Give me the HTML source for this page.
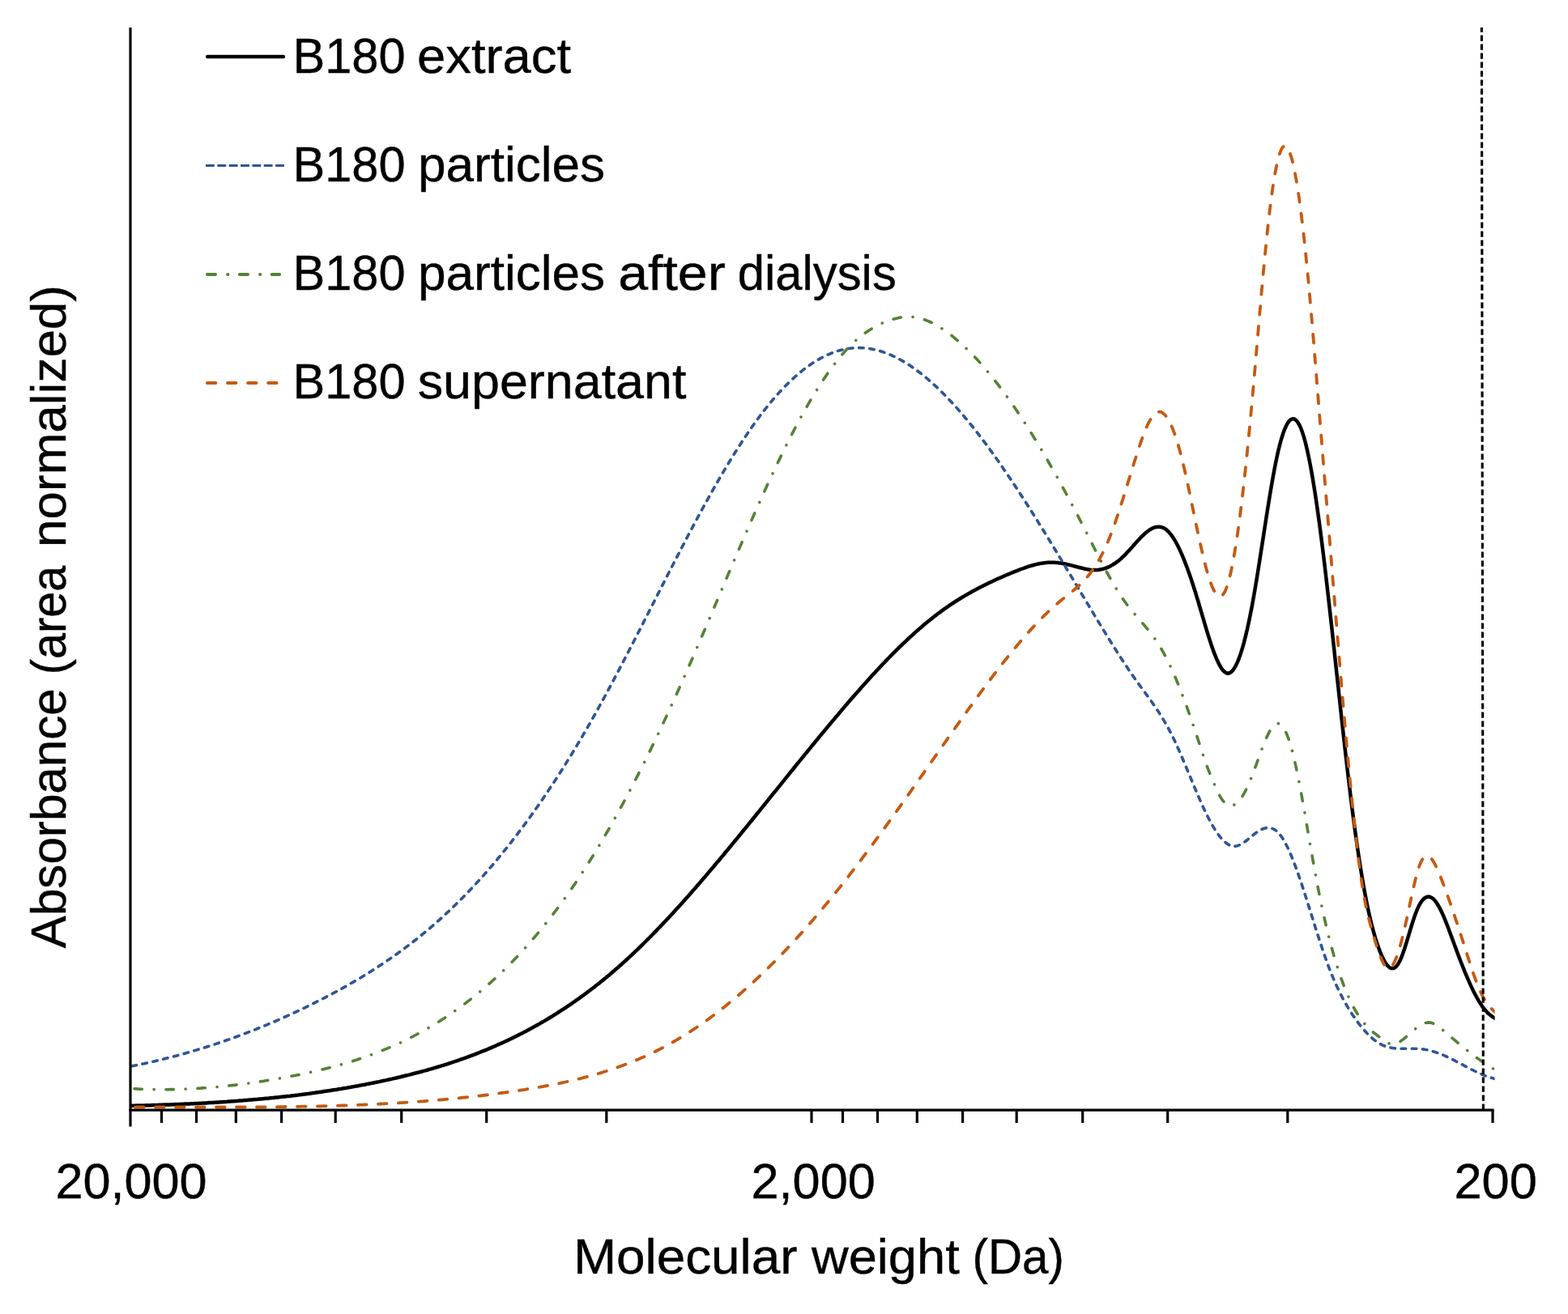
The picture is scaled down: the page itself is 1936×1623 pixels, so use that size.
<!DOCTYPE html>
<html lang="en">
<head>
<meta charset="utf-8">
<title>Molecular weight distribution</title>
<style>
html,body{margin:0;padding:0;background:#fff;}
body{width:1936px;height:1623px;overflow:hidden;}
svg{display:block;}
text{font-family:"Liberation Sans",sans-serif;font-size:60.5px;fill:#000;stroke:#000;stroke-width:0.4px;}
.ax{stroke:#000;stroke-width:3.2;fill:none;}
.c{fill:none;stroke-linejoin:round;}
</style>
</head>
<body>
<svg width="1936" height="1623" viewBox="0 0 1936 1623" role="img" aria-label="Molecular weight distribution of B180 extract, particles, particles after dialysis and supernatant">
<rect x="0" y="0" width="1936" height="1623" fill="#fff"/>
<defs><clipPath id="plot"><rect x="161" y="30" width="1684.6" height="1345"/></clipPath></defs>
<g id="curves" clip-path="url(#plot)">
<path class="c" d="M150.0,1366.0 L152.0,1366.0 L154.0,1366.0 L156.0,1365.9 L158.0,1365.9 L160.0,1365.8 L162.0,1365.8 L164.0,1365.7 L166.0,1365.7 L168.0,1365.6 L170.0,1365.6 L172.0,1365.5 L174.0,1365.5 L176.0,1365.4 L178.0,1365.4 L180.0,1365.3 L182.0,1365.3 L184.0,1365.2 L186.0,1365.2 L188.0,1365.1 L190.0,1365.0 L192.0,1365.0 L194.0,1364.9 L196.0,1364.8 L198.0,1364.8 L200.0,1364.7 L202.0,1364.6 L204.0,1364.6 L206.0,1364.5 L208.0,1364.4 L210.0,1364.4 L212.0,1364.3 L214.0,1364.2 L216.0,1364.1 L218.0,1364.1 L220.0,1364.0 L222.0,1363.9 L224.0,1363.8 L226.0,1363.7 L228.0,1363.6 L230.0,1363.5 L232.0,1363.5 L234.0,1363.4 L236.0,1363.3 L238.0,1363.2 L240.0,1363.1 L242.0,1363.0 L244.0,1362.9 L246.0,1362.8 L248.0,1362.7 L250.0,1362.6 L252.0,1362.5 L254.0,1362.4 L256.0,1362.2 L258.0,1362.1 L260.0,1362.0 L262.0,1361.9 L264.0,1361.8 L266.0,1361.7 L268.0,1361.5 L270.0,1361.4 L272.0,1361.3 L274.0,1361.2 L276.0,1361.0 L278.0,1360.9 L280.0,1360.8 L282.0,1360.6 L284.0,1360.5 L286.0,1360.3 L288.0,1360.2 L290.0,1360.0 L292.0,1359.9 L294.0,1359.8 L296.0,1359.6 L298.0,1359.4 L300.0,1359.3 L302.0,1359.1 L304.0,1359.0 L306.0,1358.8 L308.0,1358.6 L310.0,1358.5 L312.0,1358.3 L314.0,1358.1 L316.0,1357.9 L318.0,1357.8 L320.0,1357.6 L322.0,1357.4 L324.0,1357.2 L326.0,1357.0 L328.0,1356.8 L330.0,1356.7 L332.0,1356.5 L334.0,1356.3 L336.0,1356.1 L338.0,1355.9 L340.0,1355.6 L342.0,1355.4 L344.0,1355.2 L346.0,1355.0 L348.0,1354.8 L350.0,1354.6 L352.0,1354.4 L354.0,1354.1 L356.0,1353.9 L358.0,1353.7 L360.0,1353.4 L362.0,1353.2 L364.0,1353.0 L366.0,1352.7 L368.0,1352.5 L370.0,1352.2 L372.0,1352.0 L374.0,1351.7 L376.0,1351.5 L378.0,1351.2 L380.0,1350.9 L382.0,1350.7 L384.0,1350.4 L386.0,1350.1 L388.0,1349.9 L390.0,1349.6 L392.0,1349.3 L394.0,1349.0 L396.0,1348.7 L398.0,1348.4 L400.0,1348.1 L402.0,1347.8 L404.0,1347.5 L406.0,1347.2 L408.0,1346.9 L410.0,1346.6 L412.0,1346.3 L414.0,1346.0 L416.0,1345.7 L418.0,1345.3 L420.0,1345.0 L422.0,1344.7 L424.0,1344.3 L426.0,1344.0 L428.0,1343.7 L430.0,1343.3 L432.0,1343.0 L434.0,1342.6 L436.0,1342.3 L438.0,1341.9 L440.0,1341.5 L442.0,1341.2 L444.0,1340.8 L446.0,1340.4 L448.0,1340.0 L450.0,1339.7 L452.0,1339.3 L454.0,1338.9 L456.0,1338.5 L458.0,1338.1 L460.0,1337.7 L462.0,1337.3 L464.0,1336.9 L466.0,1336.5 L468.0,1336.1 L470.0,1335.6 L472.0,1335.2 L474.0,1334.8 L476.0,1334.4 L478.0,1333.9 L480.0,1333.5 L482.0,1333.0 L484.0,1332.6 L486.0,1332.1 L488.0,1331.7 L490.0,1331.2 L492.0,1330.7 L494.0,1330.3 L496.0,1329.8 L498.0,1329.3 L500.0,1328.8 L502.0,1328.3 L504.0,1327.9 L506.0,1327.4 L508.0,1326.8 L510.0,1326.3 L512.0,1325.8 L514.0,1325.3 L516.0,1324.8 L518.0,1324.2 L520.0,1323.7 L522.0,1323.2 L524.0,1322.6 L526.0,1322.1 L528.0,1321.5 L530.0,1320.9 L532.0,1320.4 L534.0,1319.8 L536.0,1319.2 L538.0,1318.6 L540.0,1318.0 L542.0,1317.4 L544.0,1316.8 L546.0,1316.2 L548.0,1315.6 L550.0,1314.9 L552.0,1314.3 L554.0,1313.6 L556.0,1313.0 L558.0,1312.3 L560.0,1311.7 L562.0,1311.0 L564.0,1310.3 L566.0,1309.6 L568.0,1308.9 L570.0,1308.2 L572.0,1307.5 L574.0,1306.8 L576.0,1306.1 L578.0,1305.4 L580.0,1304.6 L582.0,1303.9 L584.0,1303.1 L586.0,1302.4 L588.0,1301.6 L590.0,1300.8 L592.0,1300.0 L594.0,1299.2 L596.0,1298.4 L598.0,1297.6 L600.0,1296.8 L602.0,1296.0 L604.0,1295.1 L606.0,1294.3 L608.0,1293.4 L610.0,1292.6 L612.0,1291.7 L614.0,1290.8 L616.0,1289.9 L618.0,1289.0 L620.0,1288.1 L622.0,1287.2 L624.0,1286.3 L626.0,1285.4 L628.0,1284.4 L630.0,1283.5 L632.0,1282.5 L634.0,1281.5 L636.0,1280.5 L638.0,1279.5 L640.0,1278.5 L642.0,1277.5 L644.0,1276.5 L646.0,1275.5 L648.0,1274.4 L650.0,1273.4 L652.0,1272.3 L654.0,1271.2 L656.0,1270.1 L658.0,1269.0 L660.0,1267.9 L662.0,1266.8 L664.0,1265.7 L666.0,1264.6 L668.0,1263.4 L670.0,1262.2 L672.0,1261.1 L674.0,1259.9 L676.0,1258.7 L678.0,1257.5 L680.0,1256.3 L682.0,1255.1 L684.0,1253.8 L686.0,1252.6 L688.0,1251.3 L690.0,1250.0 L692.0,1248.7 L694.0,1247.4 L696.0,1246.1 L698.0,1244.8 L700.0,1243.5 L702.0,1242.1 L704.0,1240.8 L706.0,1239.4 L708.0,1238.0 L710.0,1236.6 L712.0,1235.2 L714.0,1233.8 L716.0,1232.4 L718.0,1230.9 L720.0,1229.5 L722.0,1228.0 L724.0,1226.5 L726.0,1225.0 L728.0,1223.5 L730.0,1222.0 L732.0,1220.5 L734.0,1218.9 L736.0,1217.3 L738.0,1215.8 L740.0,1214.2 L742.0,1212.6 L744.0,1211.0 L746.0,1209.3 L748.0,1207.7 L750.0,1206.0 L752.0,1204.4 L754.0,1202.7 L756.0,1201.0 L758.0,1199.3 L760.0,1197.5 L762.0,1195.8 L764.0,1194.0 L766.0,1192.3 L768.0,1190.5 L770.0,1188.7 L772.0,1186.9 L774.0,1185.0 L776.0,1183.2 L778.0,1181.3 L780.0,1179.5 L782.0,1177.6 L784.0,1175.7 L786.0,1173.8 L788.0,1171.9 L790.0,1169.9 L792.0,1168.0 L794.0,1166.0 L796.0,1164.0 L798.0,1162.0 L800.0,1160.0 L802.0,1158.0 L804.0,1156.0 L806.0,1154.0 L808.0,1151.9 L810.0,1149.9 L812.0,1147.8 L814.0,1145.7 L816.0,1143.6 L818.0,1141.5 L820.0,1139.4 L822.0,1137.3 L824.0,1135.1 L826.0,1133.0 L828.0,1130.8 L830.0,1128.7 L832.0,1126.5 L834.0,1124.3 L836.0,1122.1 L838.0,1119.9 L840.0,1117.7 L842.0,1115.5 L844.0,1113.2 L846.0,1111.0 L848.0,1108.7 L850.0,1106.5 L852.0,1104.2 L854.0,1101.9 L856.0,1099.6 L858.0,1097.4 L860.0,1095.1 L862.0,1092.7 L864.0,1090.4 L866.0,1088.1 L868.0,1085.8 L870.0,1083.5 L872.0,1081.1 L874.0,1078.8 L876.0,1076.4 L878.0,1074.0 L880.0,1071.7 L882.0,1069.3 L884.0,1066.9 L886.0,1064.5 L888.0,1062.2 L890.0,1059.8 L892.0,1057.4 L894.0,1055.0 L896.0,1052.5 L898.0,1050.1 L900.0,1047.7 L902.0,1045.3 L904.0,1042.9 L906.0,1040.4 L908.0,1038.0 L910.0,1035.6 L912.0,1033.1 L914.0,1030.7 L916.0,1028.2 L918.0,1025.8 L920.0,1023.3 L922.0,1020.8 L924.0,1018.4 L926.0,1015.9 L928.0,1013.5 L930.0,1011.0 L932.0,1008.5 L934.0,1006.0 L936.0,1003.6 L938.0,1001.1 L940.0,998.6 L942.0,996.1 L944.0,993.7 L946.0,991.2 L948.0,988.7 L950.0,986.2 L952.0,983.7 L954.0,981.2 L956.0,978.8 L958.0,976.3 L960.0,973.8 L962.0,971.3 L964.0,968.8 L966.0,966.3 L968.0,963.9 L970.0,961.4 L972.0,958.9 L974.0,956.4 L976.0,953.9 L978.0,951.5 L980.0,949.0 L982.0,946.5 L984.0,944.0 L986.0,941.6 L988.0,939.1 L990.0,936.6 L992.0,934.2 L994.0,931.7 L996.0,929.3 L998.0,926.8 L1000.0,924.4 L1002.0,921.9 L1004.0,919.5 L1006.0,917.0 L1008.0,914.6 L1010.0,912.2 L1012.0,909.7 L1014.0,907.3 L1016.0,904.9 L1018.0,902.5 L1020.0,900.1 L1022.0,897.7 L1024.0,895.3 L1026.0,892.9 L1028.0,890.5 L1030.0,888.1 L1032.0,885.7 L1034.0,883.4 L1036.0,881.0 L1038.0,878.6 L1040.0,876.3 L1042.0,873.9 L1044.0,871.6 L1046.0,869.3 L1048.0,866.9 L1050.0,864.6 L1052.0,862.3 L1054.0,860.0 L1056.0,857.7 L1058.0,855.4 L1060.0,853.2 L1062.0,850.9 L1064.0,848.6 L1066.0,846.4 L1068.0,844.2 L1070.0,841.9 L1072.0,839.7 L1074.0,837.5 L1076.0,835.3 L1078.0,833.1 L1080.0,831.0 L1082.0,828.8 L1084.0,826.7 L1086.0,824.5 L1088.0,822.4 L1090.0,820.3 L1092.0,818.2 L1094.0,816.1 L1096.0,814.0 L1098.0,812.0 L1100.0,809.9 L1102.0,807.9 L1104.0,805.9 L1106.0,803.9 L1108.0,801.9 L1110.0,800.0 L1112.0,798.0 L1114.0,796.1 L1116.0,794.2 L1118.0,792.3 L1120.0,790.4 L1122.0,788.5 L1124.0,786.6 L1126.0,784.8 L1128.0,783.0 L1130.0,781.2 L1132.0,779.4 L1134.0,777.7 L1136.0,775.9 L1138.0,774.2 L1140.0,772.5 L1142.0,770.8 L1144.0,769.1 L1146.0,767.5 L1148.0,765.9 L1150.0,764.3 L1152.0,762.7 L1154.0,761.1 L1156.0,759.6 L1158.0,758.0 L1160.0,756.6 L1162.0,755.1 L1164.0,753.6 L1166.0,752.2 L1168.0,750.8 L1170.0,749.4 L1172.0,748.0 L1174.0,746.7 L1176.0,745.3 L1178.0,744.0 L1180.0,742.7 L1182.0,741.5 L1184.0,740.2 L1186.0,739.0 L1188.0,737.8 L1190.0,736.6 L1192.0,735.4 L1194.0,734.2 L1196.0,733.1 L1198.0,732.0 L1200.0,730.8 L1202.0,729.7 L1204.0,728.7 L1206.0,727.6 L1208.0,726.5 L1210.0,725.5 L1212.0,724.5 L1214.0,723.5 L1216.0,722.5 L1218.0,721.5 L1220.0,720.5 L1222.0,719.5 L1224.0,718.6 L1226.0,717.7 L1228.0,716.7 L1230.0,715.8 L1232.0,714.9 L1234.0,714.0 L1236.0,713.1 L1238.0,712.3 L1240.0,711.4 L1242.0,710.5 L1244.0,709.7 L1246.0,708.9 L1248.0,708.0 L1250.0,707.2 L1252.0,706.4 L1254.0,705.6 L1256.0,704.8 L1258.0,704.0 L1260.0,703.2 L1262.0,702.5 L1264.0,701.8 L1266.0,701.1 L1268.0,700.4 L1270.0,699.7 L1272.0,699.1 L1274.0,698.5 L1276.0,698.0 L1278.0,697.4 L1280.0,696.9 L1282.0,696.5 L1284.0,696.1 L1286.0,695.8 L1288.0,695.4 L1290.0,695.2 L1292.0,695.0 L1294.0,694.8 L1296.0,694.7 L1298.0,694.7 L1300.0,694.7 L1302.0,694.8 L1304.0,694.9 L1306.0,695.1 L1308.0,695.4 L1310.0,695.6 L1312.0,696.0 L1314.0,696.3 L1316.0,696.7 L1318.0,697.2 L1320.0,697.6 L1322.0,698.1 L1324.0,698.6 L1326.0,699.2 L1328.0,699.7 L1330.0,700.2 L1332.0,700.8 L1334.0,701.3 L1336.0,701.8 L1338.0,702.3 L1340.0,702.7 L1342.0,703.1 L1344.0,703.4 L1346.0,703.7 L1348.0,703.9 L1350.0,704.0 L1352.0,704.0 L1354.0,704.0 L1356.0,703.8 L1358.0,703.5 L1360.0,703.1 L1362.0,702.7 L1364.0,702.1 L1366.0,701.4 L1368.0,700.6 L1370.0,699.7 L1372.0,698.6 L1374.0,697.5 L1376.0,696.2 L1378.0,694.9 L1380.0,693.4 L1382.0,691.8 L1384.0,690.1 L1386.0,688.2 L1388.0,686.3 L1390.0,684.3 L1392.0,682.1 L1394.0,679.9 L1396.0,677.7 L1398.0,675.5 L1400.0,673.2 L1402.0,671.0 L1404.0,668.7 L1406.0,666.6 L1408.0,664.4 L1410.0,662.4 L1412.0,660.5 L1414.0,658.7 L1416.0,657.0 L1418.0,655.5 L1420.0,654.1 L1422.0,653.0 L1424.0,652.0 L1426.0,651.3 L1428.0,650.9 L1430.0,650.7 L1432.0,650.7 L1434.0,651.1 L1436.0,651.8 L1438.0,652.8 L1440.0,654.2 L1442.0,656.0 L1444.0,658.1 L1446.0,660.6 L1448.0,663.4 L1450.0,666.5 L1452.0,670.0 L1454.0,673.7 L1456.0,677.8 L1458.0,682.1 L1460.0,686.7 L1462.0,691.6 L1464.0,696.7 L1466.0,702.0 L1468.0,707.6 L1470.0,713.3 L1472.0,719.3 L1474.0,725.5 L1476.0,731.8 L1478.0,738.4 L1480.0,745.0 L1482.0,751.8 L1484.0,758.6 L1486.0,765.4 L1488.0,772.2 L1490.0,778.9 L1492.0,785.4 L1494.0,791.6 L1496.0,797.7 L1498.0,803.4 L1500.0,808.7 L1502.0,813.6 L1504.0,818.0 L1506.0,821.9 L1508.0,825.3 L1510.0,828.0 L1512.0,829.9 L1514.0,831.2 L1516.0,831.7 L1518.0,831.3 L1520.0,830.1 L1522.0,828.2 L1524.0,825.4 L1526.0,821.9 L1528.0,817.6 L1530.0,812.6 L1532.0,806.9 L1534.0,800.4 L1536.0,793.3 L1538.0,785.4 L1540.0,776.9 L1542.0,767.8 L1544.0,758.0 L1546.0,747.6 L1548.0,736.6 L1550.0,725.0 L1552.0,712.9 L1554.0,700.5 L1556.0,687.7 L1558.0,674.8 L1560.0,661.8 L1562.0,648.8 L1564.0,635.9 L1566.0,623.3 L1568.0,611.0 L1570.0,599.1 L1572.0,587.8 L1574.0,577.1 L1576.0,567.1 L1578.0,558.0 L1580.0,549.8 L1582.0,542.5 L1584.0,536.1 L1586.0,530.6 L1588.0,526.0 L1590.0,522.4 L1592.0,519.7 L1594.0,518.0 L1596.0,517.3 L1598.0,517.5 L1600.0,518.8 L1602.0,521.0 L1604.0,524.3 L1606.0,528.5 L1608.0,533.8 L1610.0,540.2 L1612.0,547.5 L1614.0,555.9 L1616.0,565.2 L1618.0,575.4 L1620.0,586.5 L1622.0,598.5 L1624.0,611.2 L1626.0,624.7 L1628.0,638.9 L1630.0,653.8 L1632.0,669.4 L1634.0,685.5 L1636.0,702.1 L1638.0,719.2 L1640.0,736.7 L1642.0,754.5 L1644.0,772.5 L1646.0,790.8 L1648.0,809.2 L1650.0,827.7 L1652.0,846.1 L1654.0,864.6 L1656.0,882.9 L1658.0,901.0 L1660.0,918.9 L1662.0,936.5 L1664.0,953.8 L1666.0,970.6 L1668.0,986.9 L1670.0,1002.7 L1672.0,1018.0 L1674.0,1032.6 L1676.0,1046.7 L1678.0,1060.2 L1680.0,1073.0 L1682.0,1085.2 L1684.0,1096.7 L1686.0,1107.4 L1688.0,1117.5 L1690.0,1126.9 L1692.0,1135.6 L1694.0,1143.7 L1696.0,1151.2 L1698.0,1158.1 L1700.0,1164.4 L1702.0,1170.3 L1704.0,1175.6 L1706.0,1180.4 L1708.0,1184.6 L1710.0,1188.3 L1712.0,1191.3 L1714.0,1193.6 L1716.0,1195.2 L1718.0,1196.1 L1720.0,1196.1 L1722.0,1195.4 L1724.0,1193.7 L1726.0,1191.2 L1728.0,1187.7 L1730.0,1183.3 L1732.0,1178.1 L1734.0,1172.3 L1736.0,1166.0 L1738.0,1159.4 L1740.0,1152.8 L1742.0,1146.1 L1744.0,1139.6 L1746.0,1133.5 L1748.0,1127.8 L1750.0,1122.9 L1752.0,1118.6 L1754.0,1115.1 L1756.0,1112.2 L1758.0,1110.1 L1760.0,1108.6 L1762.0,1107.7 L1764.0,1107.5 L1766.0,1107.9 L1768.0,1108.9 L1770.0,1110.5 L1772.0,1112.7 L1774.0,1115.5 L1776.0,1118.7 L1778.0,1122.4 L1780.0,1126.5 L1782.0,1130.9 L1784.0,1135.7 L1786.0,1140.7 L1788.0,1145.8 L1790.0,1151.2 L1792.0,1156.6 L1794.0,1162.1 L1796.0,1167.5 L1798.0,1172.9 L1800.0,1178.3 L1802.0,1183.6 L1804.0,1188.7 L1806.0,1193.8 L1808.0,1198.8 L1810.0,1203.7 L1812.0,1208.4 L1814.0,1212.9 L1816.0,1217.4 L1818.0,1221.6 L1820.0,1225.7 L1822.0,1229.5 L1824.0,1233.2 L1826.0,1236.6 L1828.0,1239.8 L1830.0,1242.8 L1832.0,1245.5 L1834.0,1248.0 L1836.0,1250.1 L1838.0,1252.1 L1840.0,1253.8 L1842.0,1255.3 L1844.0,1256.6 L1846.0,1257.8 L1848.0,1258.9 L1850.0,1260.0 L1852.0,1260.9 L1854.0,1261.9 L1856.0,1262.9 L1858.0,1264.0" stroke="#000" stroke-width="4.5" stroke-linecap="round"/>
<path class="c" d="M150.0,1319.3 L152.0,1318.9 L154.0,1318.5 L156.0,1318.1 L158.0,1317.8 L160.0,1317.4 L162.0,1317.0 L164.0,1316.6 L166.0,1316.2 L168.0,1315.8 L170.0,1315.4 L172.0,1315.0 L174.0,1314.5 L176.0,1314.1 L178.0,1313.7 L180.0,1313.2 L182.0,1312.8 L184.0,1312.3 L186.0,1311.9 L188.0,1311.4 L190.0,1311.0 L192.0,1310.5 L194.0,1310.0 L196.0,1309.6 L198.0,1309.1 L200.0,1308.6 L202.0,1308.1 L204.0,1307.6 L206.0,1307.1 L208.0,1306.6 L210.0,1306.1 L212.0,1305.5 L214.0,1305.0 L216.0,1304.5 L218.0,1304.0 L220.0,1303.4 L222.0,1302.9 L224.0,1302.3 L226.0,1301.8 L228.0,1301.2 L230.0,1300.6 L232.0,1300.1 L234.0,1299.5 L236.0,1298.9 L238.0,1298.3 L240.0,1297.7 L242.0,1297.1 L244.0,1296.5 L246.0,1295.9 L248.0,1295.3 L250.0,1294.7 L252.0,1294.1 L254.0,1293.5 L256.0,1292.8 L258.0,1292.2 L260.0,1291.5 L262.0,1290.9 L264.0,1290.2 L266.0,1289.6 L268.0,1288.9 L270.0,1288.2 L272.0,1287.6 L274.0,1286.9 L276.0,1286.2 L278.0,1285.5 L280.0,1284.8 L282.0,1284.1 L284.0,1283.4 L286.0,1282.7 L288.0,1282.0 L290.0,1281.2 L292.0,1280.5 L294.0,1279.8 L296.0,1279.0 L298.0,1278.3 L300.0,1277.5 L302.0,1276.8 L304.0,1276.0 L306.0,1275.2 L308.0,1274.5 L310.0,1273.7 L312.0,1272.9 L314.0,1272.1 L316.0,1271.3 L318.0,1270.5 L320.0,1269.7 L322.0,1268.9 L324.0,1268.1 L326.0,1267.2 L328.0,1266.4 L330.0,1265.6 L332.0,1264.7 L334.0,1263.9 L336.0,1263.0 L338.0,1262.2 L340.0,1261.3 L342.0,1260.4 L344.0,1259.6 L346.0,1258.7 L348.0,1257.8 L350.0,1256.9 L352.0,1256.0 L354.0,1255.1 L356.0,1254.2 L358.0,1253.3 L360.0,1252.4 L362.0,1251.5 L364.0,1250.5 L366.0,1249.6 L368.0,1248.7 L370.0,1247.7 L372.0,1246.7 L374.0,1245.8 L376.0,1244.8 L378.0,1243.9 L380.0,1242.9 L382.0,1241.9 L384.0,1240.9 L386.0,1239.9 L388.0,1238.9 L390.0,1237.9 L392.0,1236.9 L394.0,1235.9 L396.0,1234.9 L398.0,1233.8 L400.0,1232.8 L402.0,1231.8 L404.0,1230.7 L406.0,1229.7 L408.0,1228.6 L410.0,1227.5 L412.0,1226.5 L414.0,1225.4 L416.0,1224.3 L418.0,1223.2 L420.0,1222.1 L422.0,1221.0 L424.0,1219.9 L426.0,1218.8 L428.0,1217.7 L430.0,1216.5 L432.0,1215.4 L434.0,1214.2 L436.0,1213.1 L438.0,1211.9 L440.0,1210.7 L442.0,1209.6 L444.0,1208.4 L446.0,1207.2 L448.0,1206.0 L450.0,1204.7 L452.0,1203.5 L454.0,1202.3 L456.0,1201.0 L458.0,1199.8 L460.0,1198.5 L462.0,1197.2 L464.0,1195.9 L466.0,1194.6 L468.0,1193.3 L470.0,1192.0 L472.0,1190.7 L474.0,1189.4 L476.0,1188.0 L478.0,1186.6 L480.0,1185.3 L482.0,1183.9 L484.0,1182.5 L486.0,1181.1 L488.0,1179.7 L490.0,1178.3 L492.0,1176.8 L494.0,1175.4 L496.0,1173.9 L498.0,1172.4 L500.0,1170.9 L502.0,1169.4 L504.0,1167.9 L506.0,1166.4 L508.0,1164.9 L510.0,1163.3 L512.0,1161.7 L514.0,1160.2 L516.0,1158.6 L518.0,1157.0 L520.0,1155.3 L522.0,1153.7 L524.0,1152.1 L526.0,1150.4 L528.0,1148.7 L530.0,1147.0 L532.0,1145.3 L534.0,1143.6 L536.0,1141.9 L538.0,1140.1 L540.0,1138.4 L542.0,1136.6 L544.0,1134.8 L546.0,1133.0 L548.0,1131.1 L550.0,1129.3 L552.0,1127.4 L554.0,1125.6 L556.0,1123.7 L558.0,1121.8 L560.0,1119.8 L562.0,1117.9 L564.0,1115.9 L566.0,1114.0 L568.0,1112.0 L570.0,1110.0 L572.0,1107.9 L574.0,1105.9 L576.0,1103.8 L578.0,1101.8 L580.0,1099.7 L582.0,1097.6 L584.0,1095.4 L586.0,1093.3 L588.0,1091.1 L590.0,1089.0 L592.0,1086.8 L594.0,1084.5 L596.0,1082.3 L598.0,1080.1 L600.0,1077.8 L602.0,1075.5 L604.0,1073.2 L606.0,1070.9 L608.0,1068.6 L610.0,1066.2 L612.0,1063.8 L614.0,1061.4 L616.0,1059.0 L618.0,1056.6 L620.0,1054.2 L622.0,1051.7 L624.0,1049.2 L626.0,1046.7 L628.0,1044.2 L630.0,1041.7 L632.0,1039.1 L634.0,1036.5 L636.0,1033.9 L638.0,1031.3 L640.0,1028.7 L642.0,1026.0 L644.0,1023.4 L646.0,1020.7 L648.0,1018.0 L650.0,1015.3 L652.0,1012.5 L654.0,1009.8 L656.0,1007.0 L658.0,1004.2 L660.0,1001.4 L662.0,998.5 L664.0,995.7 L666.0,992.8 L668.0,989.9 L670.0,987.0 L672.0,984.1 L674.0,981.1 L676.0,978.1 L678.0,975.1 L680.0,972.1 L682.0,969.1 L684.0,966.1 L686.0,963.0 L688.0,959.9 L690.0,956.8 L692.0,953.7 L694.0,950.5 L696.0,947.3 L698.0,944.2 L700.0,940.9 L702.0,937.7 L704.0,934.5 L706.0,931.2 L708.0,927.9 L710.0,924.6 L712.0,921.3 L714.0,917.9 L716.0,914.5 L718.0,911.2 L720.0,907.7 L722.0,904.3 L724.0,900.9 L726.0,897.4 L728.0,893.9 L730.0,890.4 L732.0,886.8 L734.0,883.3 L736.0,879.7 L738.0,876.1 L740.0,872.5 L742.0,868.9 L744.0,865.2 L746.0,861.5 L748.0,857.9 L750.0,854.2 L752.0,850.4 L754.0,846.7 L756.0,843.0 L758.0,839.2 L760.0,835.4 L762.0,831.6 L764.0,827.8 L766.0,824.0 L768.0,820.2 L770.0,816.4 L772.0,812.5 L774.0,808.7 L776.0,804.8 L778.0,800.9 L780.0,797.1 L782.0,793.2 L784.0,789.3 L786.0,785.4 L788.0,781.5 L790.0,777.6 L792.0,773.7 L794.0,769.7 L796.0,765.8 L798.0,761.9 L800.0,758.0 L802.0,754.0 L804.0,750.1 L806.0,746.2 L808.0,742.3 L810.0,738.3 L812.0,734.4 L814.0,730.5 L816.0,726.6 L818.0,722.6 L820.0,718.7 L822.0,714.8 L824.0,710.9 L826.0,707.0 L828.0,703.1 L830.0,699.2 L832.0,695.3 L834.0,691.4 L836.0,687.6 L838.0,683.7 L840.0,679.9 L842.0,676.0 L844.0,672.2 L846.0,668.4 L848.0,664.5 L850.0,660.7 L852.0,657.0 L854.0,653.2 L856.0,649.4 L858.0,645.7 L860.0,641.9 L862.0,638.2 L864.0,634.5 L866.0,630.8 L868.0,627.2 L870.0,623.5 L872.0,619.9 L874.0,616.3 L876.0,612.7 L878.0,609.1 L880.0,605.5 L882.0,602.0 L884.0,598.5 L886.0,595.0 L888.0,591.6 L890.0,588.1 L892.0,584.7 L894.0,581.3 L896.0,577.9 L898.0,574.6 L900.0,571.3 L902.0,568.0 L904.0,564.7 L906.0,561.5 L908.0,558.3 L910.0,555.1 L912.0,552.0 L914.0,548.9 L916.0,545.8 L918.0,542.7 L920.0,539.7 L922.0,536.7 L924.0,533.8 L926.0,530.9 L928.0,528.0 L930.0,525.2 L932.0,522.4 L934.0,519.6 L936.0,516.9 L938.0,514.2 L940.0,511.5 L942.0,508.9 L944.0,506.3 L946.0,503.8 L948.0,501.3 L950.0,498.8 L952.0,496.4 L954.0,494.0 L956.0,491.7 L958.0,489.4 L960.0,487.1 L962.0,484.9 L964.0,482.7 L966.0,480.6 L968.0,478.5 L970.0,476.5 L972.0,474.5 L974.0,472.5 L976.0,470.6 L978.0,468.7 L980.0,466.8 L982.0,465.0 L984.0,463.3 L986.0,461.6 L988.0,459.9 L990.0,458.3 L992.0,456.7 L994.0,455.1 L996.0,453.6 L998.0,452.2 L1000.0,450.8 L1002.0,449.4 L1004.0,448.1 L1006.0,446.8 L1008.0,445.6 L1010.0,444.4 L1012.0,443.2 L1014.0,442.1 L1016.0,441.1 L1018.0,440.1 L1020.0,439.1 L1022.0,438.2 L1024.0,437.3 L1026.0,436.5 L1028.0,435.7 L1030.0,435.0 L1032.0,434.3 L1034.0,433.6 L1036.0,433.0 L1038.0,432.5 L1040.0,432.0 L1042.0,431.5 L1044.0,431.1 L1046.0,430.8 L1048.0,430.5 L1050.0,430.2 L1052.0,430.0 L1054.0,429.8 L1056.0,429.7 L1058.0,429.6 L1060.0,429.6 L1062.0,429.6 L1064.0,429.7 L1066.0,429.8 L1068.0,430.0 L1070.0,430.2 L1072.0,430.4 L1074.0,430.7 L1076.0,431.1 L1078.0,431.5 L1080.0,431.9 L1082.0,432.4 L1084.0,432.9 L1086.0,433.4 L1088.0,434.0 L1090.0,434.7 L1092.0,435.4 L1094.0,436.1 L1096.0,436.9 L1098.0,437.7 L1100.0,438.5 L1102.0,439.4 L1104.0,440.4 L1106.0,441.3 L1108.0,442.4 L1110.0,443.4 L1112.0,444.5 L1114.0,445.6 L1116.0,446.8 L1118.0,448.0 L1120.0,449.2 L1122.0,450.5 L1124.0,451.8 L1126.0,453.2 L1128.0,454.6 L1130.0,456.0 L1132.0,457.5 L1134.0,459.0 L1136.0,460.5 L1138.0,462.0 L1140.0,463.6 L1142.0,465.3 L1144.0,467.0 L1146.0,468.7 L1148.0,470.4 L1150.0,472.2 L1152.0,474.0 L1154.0,475.8 L1156.0,477.6 L1158.0,479.5 L1160.0,481.5 L1162.0,483.4 L1164.0,485.4 L1166.0,487.4 L1168.0,489.5 L1170.0,491.6 L1172.0,493.7 L1174.0,495.8 L1176.0,498.0 L1178.0,500.1 L1180.0,502.4 L1182.0,504.6 L1184.0,506.9 L1186.0,509.2 L1188.0,511.5 L1190.0,513.9 L1192.0,516.3 L1194.0,518.7 L1196.0,521.1 L1198.0,523.6 L1200.0,526.0 L1202.0,528.5 L1204.0,531.1 L1206.0,533.6 L1208.0,536.2 L1210.0,538.8 L1212.0,541.4 L1214.0,544.1 L1216.0,546.7 L1218.0,549.4 L1220.0,552.1 L1222.0,554.9 L1224.0,557.6 L1226.0,560.4 L1228.0,563.2 L1230.0,566.0 L1232.0,568.8 L1234.0,571.7 L1236.0,574.6 L1238.0,577.5 L1240.0,580.4 L1242.0,583.3 L1244.0,586.2 L1246.0,589.2 L1248.0,592.2 L1250.0,595.2 L1252.0,598.2 L1254.0,601.2 L1256.0,604.3 L1258.0,607.3 L1260.0,610.4 L1262.0,613.5 L1264.0,616.6 L1266.0,619.7 L1268.0,622.8 L1270.0,626.0 L1272.0,629.1 L1274.0,632.3 L1276.0,635.5 L1278.0,638.7 L1280.0,641.9 L1282.0,645.1 L1284.0,648.3 L1286.0,651.5 L1288.0,654.8 L1290.0,658.0 L1292.0,661.3 L1294.0,664.5 L1296.0,667.8 L1298.0,671.1 L1300.0,674.4 L1302.0,677.7 L1304.0,681.0 L1306.0,684.3 L1308.0,687.6 L1310.0,690.9 L1312.0,694.2 L1314.0,697.5 L1316.0,700.9 L1318.0,704.2 L1320.0,707.5 L1322.0,710.9 L1324.0,714.2 L1326.0,717.6 L1328.0,720.9 L1330.0,724.2 L1332.0,727.6 L1334.0,730.9 L1336.0,734.3 L1338.0,737.6 L1340.0,741.0 L1342.0,744.3 L1344.0,747.6 L1346.0,751.0 L1348.0,754.3 L1350.0,757.6 L1352.0,761.0 L1354.0,764.3 L1356.0,767.6 L1358.0,770.9 L1360.0,774.2 L1362.0,777.5 L1364.0,780.8 L1366.0,784.0 L1368.0,787.3 L1370.0,790.5 L1372.0,793.7 L1374.0,796.9 L1376.0,800.1 L1378.0,803.3 L1380.0,806.4 L1382.0,809.6 L1384.0,812.7 L1386.0,815.7 L1388.0,818.8 L1390.0,821.8 L1392.0,824.8 L1394.0,827.8 L1396.0,830.7 L1398.0,833.6 L1400.0,836.5 L1402.0,839.3 L1404.0,842.1 L1406.0,844.9 L1408.0,847.7 L1410.0,850.4 L1412.0,853.1 L1414.0,855.8 L1416.0,858.6 L1418.0,861.3 L1420.0,864.1 L1422.0,866.9 L1424.0,869.8 L1426.0,872.7 L1428.0,875.6 L1430.0,878.6 L1432.0,881.7 L1434.0,884.9 L1436.0,888.2 L1438.0,891.6 L1440.0,895.0 L1442.0,898.6 L1444.0,902.3 L1446.0,906.2 L1448.0,910.2 L1450.0,914.3 L1452.0,918.6 L1454.0,923.0 L1456.0,927.4 L1458.0,932.0 L1460.0,936.7 L1462.0,941.4 L1464.0,946.2 L1466.0,951.0 L1468.0,955.8 L1470.0,960.6 L1472.0,965.5 L1474.0,970.3 L1476.0,975.1 L1478.0,979.8 L1480.0,984.4 L1482.0,989.0 L1484.0,993.5 L1486.0,997.9 L1488.0,1002.2 L1490.0,1006.3 L1492.0,1010.3 L1494.0,1014.1 L1496.0,1017.7 L1498.0,1021.2 L1500.0,1024.5 L1502.0,1027.6 L1504.0,1030.5 L1506.0,1033.1 L1508.0,1035.5 L1510.0,1037.7 L1512.0,1039.6 L1514.0,1041.3 L1516.0,1042.7 L1518.0,1043.8 L1520.0,1044.6 L1522.0,1045.1 L1524.0,1045.3 L1526.0,1045.1 L1528.0,1044.7 L1530.0,1043.9 L1532.0,1043.0 L1534.0,1041.8 L1536.0,1040.5 L1538.0,1039.0 L1540.0,1037.5 L1542.0,1035.8 L1544.0,1034.1 L1546.0,1032.5 L1548.0,1030.8 L1550.0,1029.3 L1552.0,1027.8 L1554.0,1026.5 L1556.0,1025.3 L1558.0,1024.3 L1560.0,1023.5 L1562.0,1022.9 L1564.0,1022.5 L1566.0,1022.4 L1568.0,1022.6 L1570.0,1023.0 L1572.0,1023.8 L1574.0,1024.9 L1576.0,1026.4 L1578.0,1028.2 L1580.0,1030.5 L1582.0,1033.1 L1584.0,1036.1 L1586.0,1039.5 L1588.0,1043.2 L1590.0,1047.2 L1592.0,1051.6 L1594.0,1056.2 L1596.0,1061.1 L1598.0,1066.2 L1600.0,1071.5 L1602.0,1077.0 L1604.0,1082.8 L1606.0,1088.6 L1608.0,1094.6 L1610.0,1100.8 L1612.0,1107.0 L1614.0,1113.3 L1616.0,1119.6 L1618.0,1126.0 L1620.0,1132.4 L1622.0,1138.8 L1624.0,1145.2 L1626.0,1151.5 L1628.0,1157.8 L1630.0,1163.9 L1632.0,1170.0 L1634.0,1175.9 L1636.0,1181.7 L1638.0,1187.3 L1640.0,1192.8 L1642.0,1198.0 L1644.0,1203.0 L1646.0,1207.9 L1648.0,1212.5 L1650.0,1217.0 L1652.0,1221.3 L1654.0,1225.4 L1656.0,1229.4 L1658.0,1233.3 L1660.0,1236.9 L1662.0,1240.5 L1664.0,1243.9 L1666.0,1247.2 L1668.0,1250.3 L1670.0,1253.4 L1672.0,1256.3 L1674.0,1259.2 L1676.0,1261.9 L1678.0,1264.6 L1680.0,1267.1 L1682.0,1269.6 L1684.0,1271.9 L1686.0,1274.2 L1688.0,1276.4 L1690.0,1278.4 L1692.0,1280.4 L1694.0,1282.2 L1696.0,1283.9 L1698.0,1285.4 L1700.0,1286.9 L1702.0,1288.2 L1704.0,1289.4 L1706.0,1290.4 L1708.0,1291.3 L1710.0,1292.1 L1712.0,1292.8 L1714.0,1293.4 L1716.0,1293.8 L1718.0,1294.2 L1720.0,1294.6 L1722.0,1294.8 L1724.0,1295.0 L1726.0,1295.1 L1728.0,1295.2 L1730.0,1295.3 L1732.0,1295.3 L1734.0,1295.3 L1736.0,1295.3 L1738.0,1295.2 L1740.0,1295.2 L1742.0,1295.2 L1744.0,1295.2 L1746.0,1295.2 L1748.0,1295.2 L1750.0,1295.3 L1752.0,1295.4 L1754.0,1295.6 L1756.0,1295.8 L1758.0,1296.1 L1760.0,1296.5 L1762.0,1296.8 L1764.0,1297.3 L1766.0,1297.8 L1768.0,1298.3 L1770.0,1298.9 L1772.0,1299.5 L1774.0,1300.1 L1776.0,1300.9 L1778.0,1301.6 L1780.0,1302.4 L1782.0,1303.2 L1784.0,1304.1 L1786.0,1305.0 L1788.0,1306.0 L1790.0,1306.9 L1792.0,1307.9 L1794.0,1308.9 L1796.0,1309.9 L1798.0,1311.0 L1800.0,1312.0 L1802.0,1313.1 L1804.0,1314.2 L1806.0,1315.2 L1808.0,1316.3 L1810.0,1317.4 L1812.0,1318.4 L1814.0,1319.5 L1816.0,1320.5 L1818.0,1321.5 L1820.0,1322.5 L1822.0,1323.5 L1824.0,1324.5 L1826.0,1325.4 L1828.0,1326.3 L1830.0,1327.1 L1832.0,1328.0 L1834.0,1328.8 L1836.0,1329.5 L1838.0,1330.2 L1840.0,1330.8 L1842.0,1331.4 L1844.0,1332.0 L1846.0,1332.5 L1848.0,1332.9 L1850.0,1333.2 L1852.0,1333.5 L1854.0,1333.7 L1856.0,1333.9 L1858.0,1333.9" stroke="#2F5597" stroke-width="3.6" stroke-linecap="round" stroke-dasharray="5.6 7.6"/>
<path class="c" d="M150.0,1343.7 L152.0,1343.9 L154.0,1344.0 L156.0,1344.2 L158.0,1344.3 L160.0,1344.5 L162.0,1344.6 L164.0,1344.7 L166.0,1344.8 L168.0,1344.9 L170.0,1345.0 L172.0,1345.1 L174.0,1345.2 L176.0,1345.3 L178.0,1345.3 L180.0,1345.4 L182.0,1345.5 L184.0,1345.5 L186.0,1345.6 L188.0,1345.6 L190.0,1345.6 L192.0,1345.7 L194.0,1345.7 L196.0,1345.7 L198.0,1345.7 L200.0,1345.7 L202.0,1345.7 L204.0,1345.7 L206.0,1345.7 L208.0,1345.7 L210.0,1345.6 L212.0,1345.6 L214.0,1345.6 L216.0,1345.5 L218.0,1345.5 L220.0,1345.4 L222.0,1345.4 L224.0,1345.3 L226.0,1345.2 L228.0,1345.2 L230.0,1345.1 L232.0,1345.0 L234.0,1344.9 L236.0,1344.8 L238.0,1344.7 L240.0,1344.6 L242.0,1344.5 L244.0,1344.3 L246.0,1344.2 L248.0,1344.1 L250.0,1343.9 L252.0,1343.8 L254.0,1343.7 L256.0,1343.5 L258.0,1343.3 L260.0,1343.2 L262.0,1343.0 L264.0,1342.8 L266.0,1342.7 L268.0,1342.5 L270.0,1342.3 L272.0,1342.1 L274.0,1341.9 L276.0,1341.7 L278.0,1341.5 L280.0,1341.3 L282.0,1341.1 L284.0,1340.8 L286.0,1340.6 L288.0,1340.4 L290.0,1340.2 L292.0,1339.9 L294.0,1339.7 L296.0,1339.4 L298.0,1339.2 L300.0,1338.9 L302.0,1338.6 L304.0,1338.4 L306.0,1338.1 L308.0,1337.8 L310.0,1337.6 L312.0,1337.3 L314.0,1337.0 L316.0,1336.7 L318.0,1336.4 L320.0,1336.1 L322.0,1335.8 L324.0,1335.5 L326.0,1335.2 L328.0,1334.8 L330.0,1334.5 L332.0,1334.2 L334.0,1333.9 L336.0,1333.5 L338.0,1333.2 L340.0,1332.9 L342.0,1332.5 L344.0,1332.2 L346.0,1331.8 L348.0,1331.4 L350.0,1331.1 L352.0,1330.7 L354.0,1330.4 L356.0,1330.0 L358.0,1329.6 L360.0,1329.2 L362.0,1328.8 L364.0,1328.5 L366.0,1328.1 L368.0,1327.7 L370.0,1327.3 L372.0,1326.8 L374.0,1326.4 L376.0,1326.0 L378.0,1325.6 L380.0,1325.2 L382.0,1324.7 L384.0,1324.3 L386.0,1323.8 L388.0,1323.4 L390.0,1322.9 L392.0,1322.5 L394.0,1322.0 L396.0,1321.5 L398.0,1321.0 L400.0,1320.5 L402.0,1320.0 L404.0,1319.5 L406.0,1319.0 L408.0,1318.5 L410.0,1318.0 L412.0,1317.5 L414.0,1316.9 L416.0,1316.4 L418.0,1315.8 L420.0,1315.2 L422.0,1314.7 L424.0,1314.1 L426.0,1313.5 L428.0,1312.9 L430.0,1312.3 L432.0,1311.7 L434.0,1311.1 L436.0,1310.5 L438.0,1309.8 L440.0,1309.2 L442.0,1308.5 L444.0,1307.8 L446.0,1307.2 L448.0,1306.5 L450.0,1305.8 L452.0,1305.1 L454.0,1304.4 L456.0,1303.7 L458.0,1302.9 L460.0,1302.2 L462.0,1301.4 L464.0,1300.7 L466.0,1299.9 L468.0,1299.1 L470.0,1298.3 L472.0,1297.5 L474.0,1296.7 L476.0,1295.9 L478.0,1295.1 L480.0,1294.2 L482.0,1293.3 L484.0,1292.5 L486.0,1291.6 L488.0,1290.7 L490.0,1289.8 L492.0,1288.9 L494.0,1288.0 L496.0,1287.0 L498.0,1286.1 L500.0,1285.1 L502.0,1284.1 L504.0,1283.1 L506.0,1282.1 L508.0,1281.1 L510.0,1280.1 L512.0,1279.0 L514.0,1278.0 L516.0,1276.9 L518.0,1275.8 L520.0,1274.7 L522.0,1273.6 L524.0,1272.5 L526.0,1271.4 L528.0,1270.2 L530.0,1269.1 L532.0,1267.9 L534.0,1266.7 L536.0,1265.5 L538.0,1264.3 L540.0,1263.0 L542.0,1261.8 L544.0,1260.5 L546.0,1259.2 L548.0,1257.9 L550.0,1256.6 L552.0,1255.3 L554.0,1254.0 L556.0,1252.6 L558.0,1251.2 L560.0,1249.8 L562.0,1248.4 L564.0,1247.0 L566.0,1245.6 L568.0,1244.1 L570.0,1242.7 L572.0,1241.2 L574.0,1239.7 L576.0,1238.2 L578.0,1236.6 L580.0,1235.1 L582.0,1233.5 L584.0,1231.9 L586.0,1230.3 L588.0,1228.7 L590.0,1227.1 L592.0,1225.4 L594.0,1223.7 L596.0,1222.1 L598.0,1220.3 L600.0,1218.6 L602.0,1216.9 L604.0,1215.1 L606.0,1213.3 L608.0,1211.5 L610.0,1209.7 L612.0,1207.8 L614.0,1206.0 L616.0,1204.1 L618.0,1202.2 L620.0,1200.3 L622.0,1198.4 L624.0,1196.4 L626.0,1194.4 L628.0,1192.4 L630.0,1190.4 L632.0,1188.4 L634.0,1186.3 L636.0,1184.2 L638.0,1182.1 L640.0,1180.0 L642.0,1177.8 L644.0,1175.7 L646.0,1173.5 L648.0,1171.3 L650.0,1169.0 L652.0,1166.8 L654.0,1164.5 L656.0,1162.2 L658.0,1159.9 L660.0,1157.6 L662.0,1155.2 L664.0,1152.8 L666.0,1150.4 L668.0,1148.0 L670.0,1145.5 L672.0,1143.0 L674.0,1140.5 L676.0,1138.0 L678.0,1135.5 L680.0,1132.9 L682.0,1130.3 L684.0,1127.7 L686.0,1125.0 L688.0,1122.4 L690.0,1119.7 L692.0,1117.0 L694.0,1114.2 L696.0,1111.4 L698.0,1108.7 L700.0,1105.8 L702.0,1103.0 L704.0,1100.1 L706.0,1097.2 L708.0,1094.3 L710.0,1091.4 L712.0,1088.4 L714.0,1085.4 L716.0,1082.4 L718.0,1079.3 L720.0,1076.3 L722.0,1073.2 L724.0,1070.0 L726.0,1066.9 L728.0,1063.7 L730.0,1060.5 L732.0,1057.2 L734.0,1054.0 L736.0,1050.7 L738.0,1047.4 L740.0,1044.1 L742.0,1040.7 L744.0,1037.3 L746.0,1033.9 L748.0,1030.4 L750.0,1027.0 L752.0,1023.5 L754.0,1020.0 L756.0,1016.4 L758.0,1012.9 L760.0,1009.3 L762.0,1005.7 L764.0,1002.0 L766.0,998.4 L768.0,994.7 L770.0,991.0 L772.0,987.3 L774.0,983.5 L776.0,979.7 L778.0,975.9 L780.0,972.1 L782.0,968.2 L784.0,964.4 L786.0,960.5 L788.0,956.6 L790.0,952.6 L792.0,948.6 L794.0,944.7 L796.0,940.7 L798.0,936.6 L800.0,932.6 L802.0,928.5 L804.0,924.4 L806.0,920.3 L808.0,916.1 L810.0,912.0 L812.0,907.8 L814.0,903.6 L816.0,899.4 L818.0,895.1 L820.0,890.8 L822.0,886.6 L824.0,882.2 L826.0,877.9 L828.0,873.6 L830.0,869.2 L832.0,864.8 L834.0,860.4 L836.0,856.0 L838.0,851.5 L840.0,847.0 L842.0,842.5 L844.0,838.0 L846.0,833.5 L848.0,829.0 L850.0,824.4 L852.0,819.8 L854.0,815.2 L856.0,810.6 L858.0,806.0 L860.0,801.4 L862.0,796.7 L864.0,792.1 L866.0,787.4 L868.0,782.7 L870.0,778.0 L872.0,773.4 L874.0,768.7 L876.0,764.0 L878.0,759.2 L880.0,754.5 L882.0,749.8 L884.0,745.1 L886.0,740.4 L888.0,735.7 L890.0,731.0 L892.0,726.2 L894.0,721.5 L896.0,716.8 L898.0,712.1 L900.0,707.4 L902.0,702.7 L904.0,698.0 L906.0,693.3 L908.0,688.6 L910.0,683.9 L912.0,679.3 L914.0,674.6 L916.0,670.0 L918.0,665.4 L920.0,660.7 L922.0,656.1 L924.0,651.5 L926.0,647.0 L928.0,642.4 L930.0,637.9 L932.0,633.3 L934.0,628.8 L936.0,624.3 L938.0,619.9 L940.0,615.4 L942.0,611.0 L944.0,606.6 L946.0,602.2 L948.0,597.8 L950.0,593.5 L952.0,589.2 L954.0,584.9 L956.0,580.7 L958.0,576.4 L960.0,572.2 L962.0,568.1 L964.0,563.9 L966.0,559.8 L968.0,555.7 L970.0,551.7 L972.0,547.7 L974.0,543.7 L976.0,539.8 L978.0,535.9 L980.0,532.0 L982.0,528.2 L984.0,524.4 L986.0,520.7 L988.0,517.0 L990.0,513.3 L992.0,509.7 L994.0,506.1 L996.0,502.6 L998.0,499.1 L1000.0,495.7 L1002.0,492.3 L1004.0,488.9 L1006.0,485.6 L1008.0,482.4 L1010.0,479.2 L1012.0,476.0 L1014.0,472.9 L1016.0,469.9 L1018.0,466.9 L1020.0,463.9 L1022.0,461.0 L1024.0,458.2 L1026.0,455.4 L1028.0,452.7 L1030.0,450.1 L1032.0,447.5 L1034.0,444.9 L1036.0,442.4 L1038.0,440.0 L1040.0,437.7 L1042.0,435.4 L1044.0,433.1 L1046.0,431.0 L1048.0,428.9 L1050.0,426.8 L1052.0,424.9 L1054.0,423.0 L1056.0,421.1 L1058.0,419.4 L1060.0,417.7 L1062.0,416.0 L1064.0,414.4 L1066.0,412.9 L1068.0,411.5 L1070.0,410.0 L1072.0,408.7 L1074.0,407.4 L1076.0,406.2 L1078.0,405.0 L1080.0,403.8 L1082.0,402.8 L1084.0,401.7 L1086.0,400.7 L1088.0,399.8 L1090.0,398.9 L1092.0,398.1 L1094.0,397.3 L1096.0,396.5 L1098.0,395.8 L1100.0,395.1 L1102.0,394.5 L1104.0,393.9 L1106.0,393.4 L1108.0,392.9 L1110.0,392.5 L1112.0,392.1 L1114.0,391.8 L1116.0,391.5 L1118.0,391.4 L1120.0,391.3 L1122.0,391.2 L1124.0,391.3 L1126.0,391.4 L1128.0,391.6 L1130.0,391.9 L1132.0,392.2 L1134.0,392.7 L1136.0,393.1 L1138.0,393.7 L1140.0,394.3 L1142.0,395.0 L1144.0,395.8 L1146.0,396.6 L1148.0,397.5 L1150.0,398.4 L1152.0,399.4 L1154.0,400.5 L1156.0,401.6 L1158.0,402.7 L1160.0,403.9 L1162.0,405.2 L1164.0,406.5 L1166.0,407.9 L1168.0,409.3 L1170.0,410.7 L1172.0,412.2 L1174.0,413.8 L1176.0,415.3 L1178.0,417.0 L1180.0,418.6 L1182.0,420.3 L1184.0,422.0 L1186.0,423.8 L1188.0,425.6 L1190.0,427.5 L1192.0,429.4 L1194.0,431.3 L1196.0,433.3 L1198.0,435.3 L1200.0,437.3 L1202.0,439.4 L1204.0,441.5 L1206.0,443.6 L1208.0,445.8 L1210.0,448.0 L1212.0,450.3 L1214.0,452.6 L1216.0,454.9 L1218.0,457.3 L1220.0,459.7 L1222.0,462.1 L1224.0,464.5 L1226.0,467.0 L1228.0,469.6 L1230.0,472.1 L1232.0,474.7 L1234.0,477.3 L1236.0,480.0 L1238.0,482.7 L1240.0,485.4 L1242.0,488.1 L1244.0,490.9 L1246.0,493.7 L1248.0,496.5 L1250.0,499.4 L1252.0,502.3 L1254.0,505.2 L1256.0,508.2 L1258.0,511.2 L1260.0,514.2 L1262.0,517.2 L1264.0,520.3 L1266.0,523.4 L1268.0,526.5 L1270.0,529.7 L1272.0,532.9 L1274.0,536.1 L1276.0,539.3 L1278.0,542.6 L1280.0,545.8 L1282.0,549.1 L1284.0,552.5 L1286.0,555.8 L1288.0,559.2 L1290.0,562.6 L1292.0,566.1 L1294.0,569.5 L1296.0,573.0 L1298.0,576.5 L1300.0,580.0 L1302.0,583.6 L1304.0,587.1 L1306.0,590.7 L1308.0,594.3 L1310.0,598.0 L1312.0,601.6 L1314.0,605.3 L1316.0,609.0 L1318.0,612.7 L1320.0,616.5 L1322.0,620.2 L1324.0,624.0 L1326.0,627.8 L1328.0,631.6 L1330.0,635.5 L1332.0,639.3 L1334.0,643.2 L1336.0,647.1 L1338.0,651.0 L1340.0,655.0 L1342.0,658.9 L1344.0,662.9 L1346.0,666.8 L1348.0,670.8 L1350.0,674.8 L1352.0,678.7 L1354.0,682.6 L1356.0,686.6 L1358.0,690.4 L1360.0,694.3 L1362.0,698.1 L1364.0,701.9 L1366.0,705.6 L1368.0,709.3 L1370.0,712.9 L1372.0,716.5 L1374.0,720.0 L1376.0,723.4 L1378.0,726.7 L1380.0,730.0 L1382.0,733.1 L1384.0,736.2 L1386.0,739.2 L1388.0,742.1 L1390.0,744.8 L1392.0,747.5 L1394.0,750.1 L1396.0,752.6 L1398.0,755.0 L1400.0,757.4 L1402.0,759.7 L1404.0,762.1 L1406.0,764.4 L1408.0,766.7 L1410.0,769.0 L1412.0,771.3 L1414.0,773.7 L1416.0,776.1 L1418.0,778.6 L1420.0,781.1 L1422.0,783.7 L1424.0,786.4 L1426.0,789.2 L1428.0,792.1 L1430.0,795.1 L1432.0,798.3 L1434.0,801.6 L1436.0,805.1 L1438.0,808.8 L1440.0,812.6 L1442.0,816.5 L1444.0,820.7 L1446.0,824.9 L1448.0,829.4 L1450.0,833.9 L1452.0,838.6 L1454.0,843.5 L1456.0,848.4 L1458.0,853.5 L1460.0,858.7 L1462.0,864.0 L1464.0,869.4 L1466.0,874.9 L1468.0,880.5 L1470.0,886.2 L1472.0,892.0 L1474.0,897.9 L1476.0,903.9 L1478.0,909.9 L1480.0,916.0 L1482.0,922.2 L1484.0,928.2 L1486.0,934.2 L1488.0,940.0 L1490.0,945.6 L1492.0,950.9 L1494.0,955.9 L1496.0,960.8 L1498.0,965.5 L1500.0,970.1 L1502.0,974.7 L1504.0,979.0 L1506.0,982.9 L1508.0,986.3 L1510.0,989.1 L1512.0,991.4 L1514.0,993.1 L1516.0,994.3 L1518.0,995.0 L1520.0,995.1 L1522.0,994.8 L1524.0,994.0 L1526.0,992.7 L1528.0,991.0 L1530.0,988.9 L1532.0,986.3 L1534.0,983.4 L1536.0,980.1 L1538.0,976.3 L1540.0,972.3 L1542.0,967.8 L1544.0,963.1 L1546.0,958.0 L1548.0,952.8 L1550.0,947.3 L1552.0,941.8 L1554.0,936.2 L1556.0,930.7 L1558.0,925.3 L1560.0,920.1 L1562.0,915.2 L1564.0,910.6 L1566.0,906.4 L1568.0,902.7 L1570.0,899.5 L1572.0,896.9 L1574.0,895.0 L1576.0,893.9 L1578.0,893.6 L1580.0,894.2 L1582.0,895.6 L1584.0,897.9 L1586.0,901.1 L1588.0,905.1 L1590.0,909.9 L1592.0,915.6 L1594.0,922.2 L1596.0,929.5 L1598.0,937.7 L1600.0,946.6 L1602.0,956.1 L1604.0,966.2 L1606.0,976.7 L1608.0,987.6 L1610.0,998.9 L1612.0,1010.3 L1614.0,1021.9 L1616.0,1033.5 L1618.0,1045.2 L1620.0,1056.7 L1622.0,1068.0 L1624.0,1079.0 L1626.0,1089.7 L1628.0,1100.0 L1630.0,1110.0 L1632.0,1119.6 L1634.0,1128.8 L1636.0,1137.7 L1638.0,1146.2 L1640.0,1154.4 L1642.0,1162.3 L1644.0,1169.8 L1646.0,1177.0 L1648.0,1184.0 L1650.0,1190.6 L1652.0,1196.9 L1654.0,1203.0 L1656.0,1208.7 L1658.0,1214.2 L1660.0,1219.4 L1662.0,1224.4 L1664.0,1229.1 L1666.0,1233.5 L1668.0,1237.7 L1670.0,1241.7 L1672.0,1245.5 L1674.0,1249.0 L1676.0,1252.3 L1678.0,1255.4 L1680.0,1258.3 L1682.0,1261.0 L1684.0,1263.5 L1686.0,1265.8 L1688.0,1268.0 L1690.0,1270.0 L1692.0,1271.8 L1694.0,1273.6 L1696.0,1275.3 L1698.0,1276.9 L1700.0,1278.5 L1702.0,1280.1 L1704.0,1281.7 L1706.0,1283.3 L1708.0,1284.8 L1710.0,1286.2 L1712.0,1287.4 L1714.0,1288.4 L1716.0,1289.1 L1718.0,1289.5 L1720.0,1289.6 L1722.0,1289.3 L1724.0,1288.8 L1726.0,1287.9 L1728.0,1286.8 L1730.0,1285.5 L1732.0,1284.1 L1734.0,1282.5 L1736.0,1280.9 L1738.0,1279.1 L1740.0,1277.3 L1742.0,1275.6 L1744.0,1273.8 L1746.0,1272.1 L1748.0,1270.4 L1750.0,1268.8 L1752.0,1267.4 L1754.0,1266.1 L1756.0,1265.0 L1758.0,1264.1 L1760.0,1263.5 L1762.0,1263.1 L1764.0,1262.9 L1766.0,1263.1 L1768.0,1263.6 L1770.0,1264.4 L1772.0,1265.4 L1774.0,1266.6 L1776.0,1268.0 L1778.0,1269.5 L1780.0,1271.1 L1782.0,1272.7 L1784.0,1274.5 L1786.0,1276.2 L1788.0,1277.9 L1790.0,1279.6 L1792.0,1281.3 L1794.0,1283.0 L1796.0,1284.7 L1798.0,1286.4 L1800.0,1288.1 L1802.0,1289.7 L1804.0,1291.4 L1806.0,1293.0 L1808.0,1294.6 L1810.0,1296.2 L1812.0,1297.8 L1814.0,1299.4 L1816.0,1301.0 L1818.0,1302.5 L1820.0,1304.0 L1822.0,1305.5 L1824.0,1307.0 L1826.0,1308.4 L1828.0,1309.8 L1830.0,1311.2 L1832.0,1312.6 L1834.0,1313.9 L1836.0,1315.3 L1838.0,1316.5 L1840.0,1317.8 L1842.0,1319.0 L1844.0,1320.2 L1846.0,1321.3 L1848.0,1322.5 L1850.0,1323.5 L1852.0,1324.6 L1854.0,1325.6 L1856.0,1326.5 L1858.0,1327.5" stroke="#548235" stroke-width="3.6" stroke-linecap="round" stroke-dasharray="9.4 14.8 0.01 14.8" stroke-dashoffset="-16"/>
<path class="c" d="M150.0,1367.6 L152.0,1367.6 L154.0,1367.6 L156.0,1367.6 L158.0,1367.6 L160.0,1367.5 L162.0,1367.5 L164.0,1367.5 L166.0,1367.5 L168.0,1367.5 L170.0,1367.5 L172.0,1367.5 L174.0,1367.5 L176.0,1367.5 L178.0,1367.5 L180.0,1367.5 L182.0,1367.5 L184.0,1367.5 L186.0,1367.5 L188.0,1367.5 L190.0,1367.5 L192.0,1367.5 L194.0,1367.5 L196.0,1367.5 L198.0,1367.5 L200.0,1367.5 L202.0,1367.5 L204.0,1367.5 L206.0,1367.5 L208.0,1367.5 L210.0,1367.5 L212.0,1367.5 L214.0,1367.5 L216.0,1367.5 L218.0,1367.5 L220.0,1367.5 L222.0,1367.5 L224.0,1367.5 L226.0,1367.5 L228.0,1367.5 L230.0,1367.5 L232.0,1367.5 L234.0,1367.5 L236.0,1367.5 L238.0,1367.5 L240.0,1367.5 L242.0,1367.5 L244.0,1367.5 L246.0,1367.5 L248.0,1367.5 L250.0,1367.5 L252.0,1367.5 L254.0,1367.5 L256.0,1367.5 L258.0,1367.5 L260.0,1367.5 L262.0,1367.5 L264.0,1367.5 L266.0,1367.5 L268.0,1367.5 L270.0,1367.5 L272.0,1367.5 L274.0,1367.5 L276.0,1367.5 L278.0,1367.5 L280.0,1367.5 L282.0,1367.5 L284.0,1367.5 L286.0,1367.5 L288.0,1367.5 L290.0,1367.5 L292.0,1367.4 L294.0,1367.4 L296.0,1367.4 L298.0,1367.4 L300.0,1367.4 L302.0,1367.4 L304.0,1367.4 L306.0,1367.4 L308.0,1367.4 L310.0,1367.4 L312.0,1367.4 L314.0,1367.4 L316.0,1367.4 L318.0,1367.3 L320.0,1367.3 L322.0,1367.3 L324.0,1367.3 L326.0,1367.3 L328.0,1367.3 L330.0,1367.3 L332.0,1367.2 L334.0,1367.2 L336.0,1367.2 L338.0,1367.2 L340.0,1367.2 L342.0,1367.2 L344.0,1367.1 L346.0,1367.1 L348.0,1367.1 L350.0,1367.1 L352.0,1367.0 L354.0,1367.0 L356.0,1367.0 L358.0,1367.0 L360.0,1366.9 L362.0,1366.9 L364.0,1366.9 L366.0,1366.8 L368.0,1366.8 L370.0,1366.8 L372.0,1366.7 L374.0,1366.7 L376.0,1366.7 L378.0,1366.6 L380.0,1366.6 L382.0,1366.6 L384.0,1366.5 L386.0,1366.5 L388.0,1366.4 L390.0,1366.4 L392.0,1366.3 L394.0,1366.3 L396.0,1366.3 L398.0,1366.2 L400.0,1366.2 L402.0,1366.1 L404.0,1366.1 L406.0,1366.0 L408.0,1365.9 L410.0,1365.9 L412.0,1365.8 L414.0,1365.8 L416.0,1365.7 L418.0,1365.7 L420.0,1365.6 L422.0,1365.5 L424.0,1365.5 L426.0,1365.4 L428.0,1365.3 L430.0,1365.3 L432.0,1365.2 L434.0,1365.1 L436.0,1365.0 L438.0,1365.0 L440.0,1364.9 L442.0,1364.8 L444.0,1364.7 L446.0,1364.7 L448.0,1364.6 L450.0,1364.5 L452.0,1364.4 L454.0,1364.3 L456.0,1364.2 L458.0,1364.1 L460.0,1364.0 L462.0,1363.9 L464.0,1363.8 L466.0,1363.8 L468.0,1363.7 L470.0,1363.5 L472.0,1363.4 L474.0,1363.3 L476.0,1363.2 L478.0,1363.1 L480.0,1363.0 L482.0,1362.9 L484.0,1362.8 L486.0,1362.7 L488.0,1362.6 L490.0,1362.4 L492.0,1362.3 L494.0,1362.2 L496.0,1362.1 L498.0,1361.9 L500.0,1361.8 L502.0,1361.7 L504.0,1361.5 L506.0,1361.4 L508.0,1361.3 L510.0,1361.1 L512.0,1361.0 L514.0,1360.9 L516.0,1360.7 L518.0,1360.6 L520.0,1360.4 L522.0,1360.3 L524.0,1360.1 L526.0,1359.9 L528.0,1359.8 L530.0,1359.6 L532.0,1359.5 L534.0,1359.3 L536.0,1359.1 L538.0,1359.0 L540.0,1358.8 L542.0,1358.6 L544.0,1358.4 L546.0,1358.3 L548.0,1358.1 L550.0,1357.9 L552.0,1357.7 L554.0,1357.5 L556.0,1357.3 L558.0,1357.1 L560.0,1357.0 L562.0,1356.8 L564.0,1356.6 L566.0,1356.4 L568.0,1356.1 L570.0,1355.9 L572.0,1355.7 L574.0,1355.5 L576.0,1355.3 L578.0,1355.1 L580.0,1354.9 L582.0,1354.6 L584.0,1354.4 L586.0,1354.2 L588.0,1354.0 L590.0,1353.7 L592.0,1353.5 L594.0,1353.3 L596.0,1353.0 L598.0,1352.8 L600.0,1352.5 L602.0,1352.3 L604.0,1352.0 L606.0,1351.8 L608.0,1351.5 L610.0,1351.3 L612.0,1351.0 L614.0,1350.7 L616.0,1350.5 L618.0,1350.2 L620.0,1349.9 L622.0,1349.6 L624.0,1349.4 L626.0,1349.1 L628.0,1348.8 L630.0,1348.5 L632.0,1348.2 L634.0,1347.9 L636.0,1347.6 L638.0,1347.3 L640.0,1347.0 L642.0,1346.7 L644.0,1346.4 L646.0,1346.1 L648.0,1345.8 L650.0,1345.4 L652.0,1345.1 L654.0,1344.8 L656.0,1344.5 L658.0,1344.1 L660.0,1343.8 L662.0,1343.5 L664.0,1343.1 L666.0,1342.8 L668.0,1342.4 L670.0,1342.1 L672.0,1341.7 L674.0,1341.3 L676.0,1340.9 L678.0,1340.6 L680.0,1340.2 L682.0,1339.8 L684.0,1339.4 L686.0,1339.0 L688.0,1338.6 L690.0,1338.2 L692.0,1337.8 L694.0,1337.3 L696.0,1336.9 L698.0,1336.5 L700.0,1336.0 L702.0,1335.6 L704.0,1335.1 L706.0,1334.7 L708.0,1334.2 L710.0,1333.7 L712.0,1333.3 L714.0,1332.8 L716.0,1332.3 L718.0,1331.8 L720.0,1331.2 L722.0,1330.7 L724.0,1330.2 L726.0,1329.7 L728.0,1329.1 L730.0,1328.6 L732.0,1328.0 L734.0,1327.4 L736.0,1326.9 L738.0,1326.3 L740.0,1325.7 L742.0,1325.1 L744.0,1324.5 L746.0,1323.8 L748.0,1323.2 L750.0,1322.6 L752.0,1321.9 L754.0,1321.2 L756.0,1320.6 L758.0,1319.9 L760.0,1319.2 L762.0,1318.5 L764.0,1317.8 L766.0,1317.1 L768.0,1316.3 L770.0,1315.6 L772.0,1314.8 L774.0,1314.1 L776.0,1313.3 L778.0,1312.5 L780.0,1311.7 L782.0,1310.9 L784.0,1310.1 L786.0,1309.2 L788.0,1308.4 L790.0,1307.5 L792.0,1306.6 L794.0,1305.8 L796.0,1304.9 L798.0,1304.0 L800.0,1303.0 L802.0,1302.1 L804.0,1301.2 L806.0,1300.2 L808.0,1299.2 L810.0,1298.2 L812.0,1297.2 L814.0,1296.2 L816.0,1295.2 L818.0,1294.2 L820.0,1293.1 L822.0,1292.0 L824.0,1291.0 L826.0,1289.9 L828.0,1288.7 L830.0,1287.6 L832.0,1286.5 L834.0,1285.3 L836.0,1284.2 L838.0,1283.0 L840.0,1281.8 L842.0,1280.6 L844.0,1279.3 L846.0,1278.1 L848.0,1276.8 L850.0,1275.6 L852.0,1274.3 L854.0,1273.0 L856.0,1271.7 L858.0,1270.3 L860.0,1269.0 L862.0,1267.6 L864.0,1266.3 L866.0,1264.9 L868.0,1263.5 L870.0,1262.0 L872.0,1260.6 L874.0,1259.2 L876.0,1257.7 L878.0,1256.2 L880.0,1254.8 L882.0,1253.3 L884.0,1251.7 L886.0,1250.2 L888.0,1248.7 L890.0,1247.1 L892.0,1245.5 L894.0,1244.0 L896.0,1242.4 L898.0,1240.7 L900.0,1239.1 L902.0,1237.5 L904.0,1235.8 L906.0,1234.2 L908.0,1232.5 L910.0,1230.8 L912.0,1229.1 L914.0,1227.3 L916.0,1225.6 L918.0,1223.8 L920.0,1222.1 L922.0,1220.3 L924.0,1218.5 L926.0,1216.7 L928.0,1214.9 L930.0,1213.1 L932.0,1211.2 L934.0,1209.3 L936.0,1207.5 L938.0,1205.6 L940.0,1203.7 L942.0,1201.8 L944.0,1199.8 L946.0,1197.9 L948.0,1195.9 L950.0,1194.0 L952.0,1192.0 L954.0,1190.0 L956.0,1188.0 L958.0,1186.0 L960.0,1183.9 L962.0,1181.9 L964.0,1179.8 L966.0,1177.8 L968.0,1175.7 L970.0,1173.6 L972.0,1171.5 L974.0,1169.3 L976.0,1167.2 L978.0,1165.0 L980.0,1162.9 L982.0,1160.7 L984.0,1158.5 L986.0,1156.3 L988.0,1154.1 L990.0,1151.9 L992.0,1149.6 L994.0,1147.4 L996.0,1145.1 L998.0,1142.8 L1000.0,1140.5 L1002.0,1138.2 L1004.0,1135.9 L1006.0,1133.6 L1008.0,1131.2 L1010.0,1128.9 L1012.0,1126.5 L1014.0,1124.1 L1016.0,1121.7 L1018.0,1119.3 L1020.0,1116.9 L1022.0,1114.5 L1024.0,1112.0 L1026.0,1109.6 L1028.0,1107.1 L1030.0,1104.6 L1032.0,1102.1 L1034.0,1099.6 L1036.0,1097.1 L1038.0,1094.6 L1040.0,1092.1 L1042.0,1089.5 L1044.0,1086.9 L1046.0,1084.4 L1048.0,1081.8 L1050.0,1079.2 L1052.0,1076.6 L1054.0,1074.0 L1056.0,1071.4 L1058.0,1068.8 L1060.0,1066.1 L1062.0,1063.5 L1064.0,1060.8 L1066.0,1058.2 L1068.0,1055.5 L1070.0,1052.8 L1072.0,1050.2 L1074.0,1047.5 L1076.0,1044.8 L1078.0,1042.1 L1080.0,1039.3 L1082.0,1036.6 L1084.0,1033.9 L1086.0,1031.1 L1088.0,1028.4 L1090.0,1025.7 L1092.0,1022.9 L1094.0,1020.1 L1096.0,1017.4 L1098.0,1014.6 L1100.0,1011.8 L1102.0,1009.0 L1104.0,1006.2 L1106.0,1003.4 L1108.0,1000.6 L1110.0,997.8 L1112.0,995.0 L1114.0,992.2 L1116.0,989.4 L1118.0,986.6 L1120.0,983.7 L1122.0,980.9 L1124.0,978.1 L1126.0,975.2 L1128.0,972.4 L1130.0,969.6 L1132.0,966.7 L1134.0,963.9 L1136.0,961.0 L1138.0,958.2 L1140.0,955.3 L1142.0,952.5 L1144.0,949.6 L1146.0,946.7 L1148.0,943.9 L1150.0,941.0 L1152.0,938.1 L1154.0,935.3 L1156.0,932.4 L1158.0,929.6 L1160.0,926.7 L1162.0,923.8 L1164.0,921.0 L1166.0,918.1 L1168.0,915.3 L1170.0,912.4 L1172.0,909.6 L1174.0,906.7 L1176.0,903.9 L1178.0,901.1 L1180.0,898.2 L1182.0,895.4 L1184.0,892.6 L1186.0,889.7 L1188.0,886.9 L1190.0,884.1 L1192.0,881.3 L1194.0,878.5 L1196.0,875.7 L1198.0,872.9 L1200.0,870.2 L1202.0,867.4 L1204.0,864.6 L1206.0,861.9 L1208.0,859.1 L1210.0,856.4 L1212.0,853.7 L1214.0,850.9 L1216.0,848.2 L1218.0,845.5 L1220.0,842.8 L1222.0,840.2 L1224.0,837.5 L1226.0,834.9 L1228.0,832.2 L1230.0,829.6 L1232.0,827.0 L1234.0,824.4 L1236.0,821.8 L1238.0,819.2 L1240.0,816.7 L1242.0,814.2 L1244.0,811.7 L1246.0,809.2 L1248.0,806.7 L1250.0,804.2 L1252.0,801.8 L1254.0,799.4 L1256.0,797.0 L1258.0,794.6 L1260.0,792.2 L1262.0,789.9 L1264.0,787.6 L1266.0,785.3 L1268.0,783.0 L1270.0,780.8 L1272.0,778.6 L1274.0,776.4 L1276.0,774.2 L1278.0,772.1 L1280.0,769.9 L1282.0,767.8 L1284.0,765.8 L1286.0,763.7 L1288.0,761.7 L1290.0,759.7 L1292.0,757.8 L1294.0,755.9 L1296.0,754.0 L1298.0,752.1 L1300.0,750.3 L1302.0,748.5 L1304.0,746.7 L1306.0,745.0 L1308.0,743.3 L1310.0,741.6 L1312.0,740.0 L1314.0,738.4 L1316.0,736.8 L1318.0,735.2 L1320.0,733.6 L1322.0,732.0 L1324.0,730.4 L1326.0,728.7 L1328.0,727.0 L1330.0,725.3 L1332.0,723.5 L1334.0,721.6 L1336.0,719.6 L1338.0,717.5 L1340.0,715.4 L1342.0,713.1 L1344.0,710.7 L1346.0,708.2 L1348.0,705.5 L1350.0,702.7 L1352.0,699.7 L1354.0,696.5 L1356.0,693.2 L1358.0,689.7 L1360.0,686.0 L1362.0,682.0 L1364.0,677.9 L1366.0,673.5 L1368.0,668.9 L1370.0,664.0 L1372.0,658.9 L1374.0,653.5 L1376.0,648.0 L1378.0,642.2 L1380.0,636.3 L1382.0,630.2 L1384.0,624.0 L1386.0,617.7 L1388.0,611.3 L1390.0,604.9 L1392.0,598.4 L1394.0,591.9 L1396.0,585.4 L1398.0,579.0 L1400.0,572.5 L1402.0,566.2 L1404.0,559.9 L1406.0,553.8 L1408.0,547.9 L1410.0,542.1 L1412.0,536.7 L1414.0,531.6 L1416.0,526.9 L1418.0,522.6 L1420.0,518.9 L1422.0,515.6 L1424.0,513.0 L1426.0,511.0 L1428.0,509.6 L1430.0,508.8 L1432.0,508.7 L1434.0,509.2 L1436.0,510.3 L1438.0,512.1 L1440.0,514.4 L1442.0,517.4 L1444.0,520.9 L1446.0,525.1 L1448.0,529.8 L1450.0,535.1 L1452.0,540.9 L1454.0,547.2 L1456.0,554.1 L1458.0,561.5 L1460.0,569.5 L1462.0,577.9 L1464.0,586.6 L1466.0,595.7 L1468.0,605.1 L1470.0,614.7 L1472.0,624.3 L1474.0,634.0 L1476.0,643.7 L1478.0,653.2 L1480.0,662.6 L1482.0,671.8 L1484.0,680.6 L1486.0,689.1 L1488.0,697.1 L1490.0,704.5 L1492.0,711.4 L1494.0,717.6 L1496.0,723.0 L1498.0,727.7 L1500.0,731.4 L1502.0,734.2 L1504.0,736.0 L1506.0,736.7 L1508.0,736.2 L1510.0,734.4 L1512.0,731.4 L1514.0,727.0 L1516.0,721.1 L1518.0,714.0 L1520.0,705.5 L1522.0,695.7 L1524.0,684.7 L1526.0,672.6 L1528.0,659.2 L1530.0,644.8 L1532.0,629.3 L1534.0,612.8 L1536.0,595.4 L1538.0,577.0 L1540.0,557.7 L1542.0,537.5 L1544.0,516.5 L1546.0,494.8 L1548.0,472.4 L1550.0,449.4 L1552.0,426.1 L1554.0,402.8 L1556.0,379.7 L1558.0,356.9 L1560.0,334.9 L1562.0,313.7 L1564.0,293.6 L1566.0,274.9 L1568.0,257.7 L1570.0,242.1 L1572.0,228.2 L1574.0,215.9 L1576.0,205.4 L1578.0,196.6 L1580.0,189.7 L1582.0,184.6 L1584.0,181.5 L1586.0,180.2 L1588.0,180.7 L1590.0,183.0 L1592.0,187.1 L1594.0,192.8 L1596.0,200.1 L1598.0,209.0 L1600.0,219.5 L1602.0,231.4 L1604.0,244.8 L1606.0,259.7 L1608.0,275.8 L1610.0,293.3 L1612.0,312.0 L1614.0,332.0 L1616.0,353.2 L1618.0,375.4 L1620.0,398.7 L1622.0,422.9 L1624.0,447.6 L1626.0,472.6 L1628.0,497.8 L1630.0,522.9 L1632.0,547.7 L1634.0,572.4 L1636.0,596.9 L1638.0,621.5 L1640.0,646.0 L1642.0,670.6 L1644.0,695.3 L1646.0,720.1 L1648.0,744.8 L1650.0,769.5 L1652.0,794.0 L1654.0,818.3 L1656.0,842.3 L1658.0,865.9 L1660.0,889.1 L1662.0,911.7 L1664.0,933.8 L1666.0,955.2 L1668.0,975.9 L1670.0,995.9 L1672.0,1014.9 L1674.0,1033.0 L1676.0,1050.1 L1678.0,1066.2 L1680.0,1080.9 L1682.0,1094.3 L1684.0,1106.2 L1686.0,1116.7 L1688.0,1126.0 L1690.0,1134.3 L1692.0,1142.0 L1694.0,1149.1 L1696.0,1156.1 L1698.0,1162.8 L1700.0,1169.2 L1702.0,1175.3 L1704.0,1180.8 L1706.0,1185.6 L1708.0,1189.7 L1710.0,1192.8 L1712.0,1194.9 L1714.0,1195.9 L1716.0,1195.7 L1718.0,1194.2 L1720.0,1191.5 L1722.0,1187.8 L1724.0,1183.1 L1726.0,1177.5 L1728.0,1171.1 L1730.0,1164.0 L1732.0,1156.2 L1734.0,1147.8 L1736.0,1139.0 L1738.0,1129.8 L1740.0,1120.4 L1742.0,1111.0 L1744.0,1101.8 L1746.0,1093.0 L1748.0,1084.8 L1750.0,1077.3 L1752.0,1070.9 L1754.0,1065.7 L1756.0,1061.7 L1758.0,1059.1 L1760.0,1057.6 L1762.0,1057.2 L1764.0,1057.7 L1766.0,1059.2 L1768.0,1061.4 L1770.0,1064.4 L1772.0,1068.0 L1774.0,1072.1 L1776.0,1076.6 L1778.0,1081.4 L1780.0,1086.5 L1782.0,1091.8 L1784.0,1097.2 L1786.0,1102.6 L1788.0,1108.2 L1790.0,1113.8 L1792.0,1119.6 L1794.0,1125.4 L1796.0,1131.3 L1798.0,1137.3 L1800.0,1143.3 L1802.0,1149.4 L1804.0,1155.6 L1806.0,1161.9 L1808.0,1168.2 L1810.0,1174.5 L1812.0,1180.8 L1814.0,1187.0 L1816.0,1193.1 L1818.0,1199.1 L1820.0,1204.9 L1822.0,1210.4 L1824.0,1215.6 L1826.0,1220.5 L1828.0,1225.0 L1830.0,1229.2 L1832.0,1232.8 L1834.0,1236.1 L1836.0,1239.1 L1838.0,1241.7 L1840.0,1244.1 L1842.0,1246.3 L1844.0,1248.3 L1846.0,1250.1 L1848.0,1251.9 L1850.0,1253.6 L1852.0,1255.4 L1854.0,1257.2 L1856.0,1259.0 L1858.0,1261.0" stroke="#C55A11" stroke-width="3.8" stroke-linecap="round" stroke-dasharray="10.6 14.4" stroke-dashoffset="-17"/>
</g>
<line x1="1829.4" y1="34" x2="1831.4" y2="1371.2" stroke="#000" stroke-width="3.1" stroke-dasharray="7.4 3.6" stroke-dashoffset="1.6"/>
<line class="ax" x1="161.0" y1="34" x2="161.0" y2="1391.5"/>
<line class="ax" x1="159.4" y1="1371.2" x2="1844.6" y2="1371.2"/>
<line class="ax" x1="199.5" y1="1371.2" x2="199.5" y2="1387"/>
<line class="ax" x1="242.5" y1="1371.2" x2="242.5" y2="1387"/>
<line class="ax" x1="291.3" y1="1371.2" x2="291.3" y2="1387"/>
<line class="ax" x1="347.6" y1="1371.2" x2="347.6" y2="1387"/>
<line class="ax" x1="414.2" y1="1371.2" x2="414.2" y2="1387"/>
<line class="ax" x1="495.7" y1="1371.2" x2="495.7" y2="1387"/>
<line class="ax" x1="600.7" y1="1371.2" x2="600.7" y2="1387"/>
<line class="ax" x1="748.8" y1="1371.2" x2="748.8" y2="1387"/>
<line class="ax" x1="1002.0" y1="1371.2" x2="1002.0" y2="1387"/>
<line class="ax" x1="1040.5" y1="1371.2" x2="1040.5" y2="1387"/>
<line class="ax" x1="1083.5" y1="1371.2" x2="1083.5" y2="1387"/>
<line class="ax" x1="1132.3" y1="1371.2" x2="1132.3" y2="1387"/>
<line class="ax" x1="1188.6" y1="1371.2" x2="1188.6" y2="1387"/>
<line class="ax" x1="1255.2" y1="1371.2" x2="1255.2" y2="1387"/>
<line class="ax" x1="1336.7" y1="1371.2" x2="1336.7" y2="1387"/>
<line class="ax" x1="1441.7" y1="1371.2" x2="1441.7" y2="1387"/>
<line class="ax" x1="1589.8" y1="1371.2" x2="1589.8" y2="1387"/>
<line class="ax" x1="1843.0" y1="1371.2" x2="1843.0" y2="1387"/>
<line x1="256.2" y1="70" x2="349.8" y2="70" stroke="#000" stroke-width="4.5" stroke-linecap="round" fill="none"/>
<line x1="254" y1="204.5" x2="351.2" y2="204.5" stroke="#2F5597" stroke-width="3.1" stroke-dasharray="10.85 3.5" fill="none"/>
<line x1="255.9" y1="339" x2="345.2" y2="339" stroke="#548235" stroke-width="3.9" stroke-linecap="round" stroke-dasharray="10.2 15 0.3 14.4" fill="none"/>
<line x1="255.9" y1="473" x2="342.5" y2="473" stroke="#C55A11" stroke-width="3.9" stroke-linecap="round" stroke-dasharray="10.4 14.7" fill="none"/>
<text y="89.9"><tspan x="361.5" textLength="139.1" lengthAdjust="spacingAndGlyphs">B180</tspan> <tspan x="515.1" textLength="189.9" lengthAdjust="spacingAndGlyphs">extract</tspan></text>
<text y="223.9"><tspan x="361.5" textLength="139.1" lengthAdjust="spacingAndGlyphs">B180</tspan> <tspan x="516.0" textLength="231.0" lengthAdjust="spacingAndGlyphs">particles</tspan></text>
<text y="358.2"><tspan x="361.5" textLength="139.1" lengthAdjust="spacingAndGlyphs">B180</tspan> <tspan x="516.0" textLength="231.0" lengthAdjust="spacingAndGlyphs">particles</tspan> <tspan x="763.2" textLength="132.6" lengthAdjust="spacingAndGlyphs">after</tspan> <tspan x="910.7" textLength="196.1" lengthAdjust="spacingAndGlyphs">dialysis</tspan></text>
<text y="492.3"><tspan x="361.5" textLength="139.1" lengthAdjust="spacingAndGlyphs">B180</tspan> <tspan x="515.7" textLength="331.7" lengthAdjust="spacingAndGlyphs">supernatant</tspan></text>
<text y="1480.2"><tspan x="68.4" textLength="187.2" lengthAdjust="spacingAndGlyphs">20,000</tspan></text>
<text y="1480.2"><tspan x="927.5" textLength="153.4" lengthAdjust="spacingAndGlyphs">2,000</tspan></text>
<text y="1480.2"><tspan x="1795.4" textLength="102.4" lengthAdjust="spacingAndGlyphs">200</tspan></text>
<text y="1572.6"><tspan x="707.9" textLength="276.6" lengthAdjust="spacingAndGlyphs">Molecular</tspan> <tspan x="1002.0" textLength="182.7" lengthAdjust="spacingAndGlyphs">weight</tspan> <tspan x="1200.5" textLength="113.4" lengthAdjust="spacingAndGlyphs">(Da)</tspan></text>
<g transform="translate(81.2 1171.0) rotate(-90)"><text y="0"><tspan x="-0.2" textLength="320.9" lengthAdjust="spacingAndGlyphs">Absorbance</tspan> <tspan x="337.7" textLength="134.8" lengthAdjust="spacingAndGlyphs">(area</tspan> <tspan x="495.1" textLength="323.9" lengthAdjust="spacingAndGlyphs">normalized)</tspan></text></g>
</svg>
</body>
</html>
